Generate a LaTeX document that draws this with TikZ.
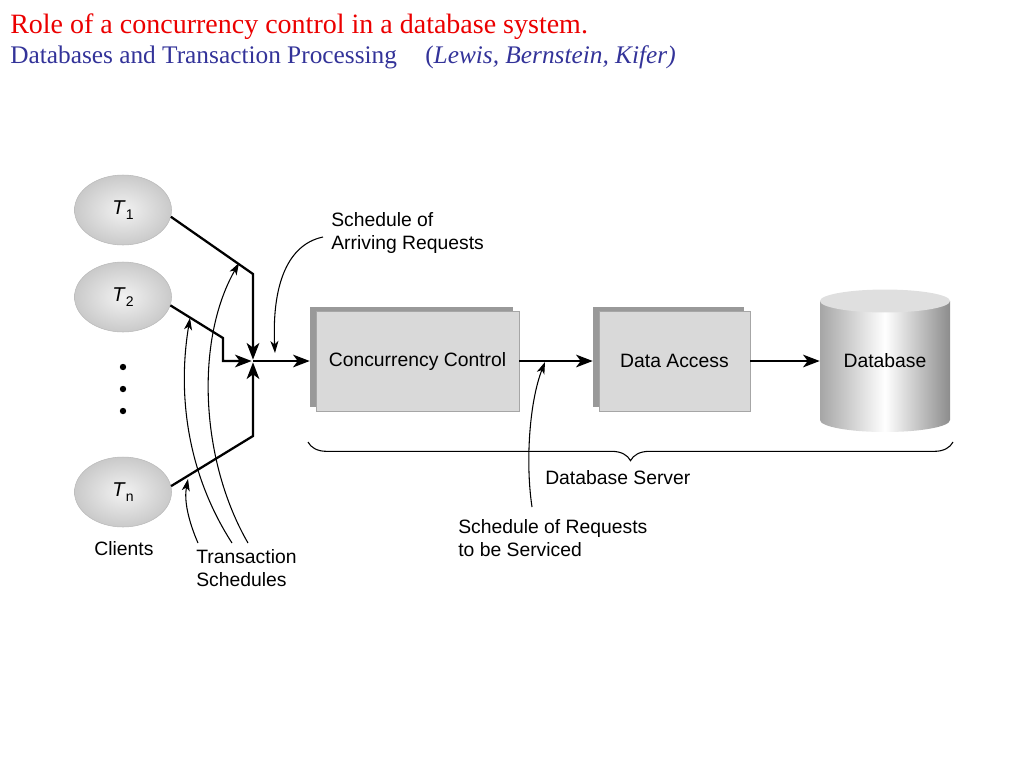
\documentclass[tikz,border=0pt]{standalone}
\usepackage{fontspec}
\setmainfont{Liberation Serif}
\setsansfont{Liberation Sans}
\usetikzlibrary{shapes.geometric,shadows,arrows.meta,decorations.pathreplacing}
\definecolor{subblue}{RGB}{51,51,153}
\definecolor{titlered}{RGB}{235,0,0}

\begin{document}
\begin{tikzpicture}[x=0.75pt,y=-0.75pt,
    client/.style ={ellipse, draw=gray!55, inner color=gray!10, outer color=gray!42, minimum width=72.75pt, minimum height=52.5pt, inner sep=0pt, font=\sffamily\fontsize{15}{17}\selectfont},
    server/.style ={rectangle, draw=gray!70, fill=gray!30, minimum height=75pt, font=\sffamily\fontsize{14.5}{17}\selectfont, drop shadow={shadow xshift=-4.5pt, shadow yshift=3pt, fill=gray!80, opacity=1}},
    textlabel/.style ={font=\sffamily\fontsize{14.5}{17.25}\selectfont, align=left, inner sep=0pt},
    flow/.style ={line width=1.7pt, -{Stealth[length=12.5pt, width=9.5pt, inset=3.5pt]}},
    note/.style ={line width=0.8pt, -{Stealth[length=9pt, width=6pt, inset=2.5pt]}}]
   \useasboundingbox (0,0) rectangle (1024,768);
   \node[anchor=base west, inner sep=0pt, text=titlered, font=\fontsize{21}{25}\selectfont] (title) at (10,33) {Role of a concurrency control in a database system.};
   \node[anchor=base west, inner sep=0pt, text=subblue, font=\fontsize{19}{23}\selectfont] (book) at (10,63) {Databases and Transaction Processing};
   \node[anchor=base west, inner sep=0pt, text=subblue, font=\fontsize{19}{23}\selectfont] (authors) at (425,63) {(\textit{Lewis, Bernstein, Kifer)}};
   \node[client] (t1) at (123,210) {\textit{T}\raisebox{-.45ex}{\fontsize{10.5}{10}\selectfont 1}};
   \node[client] (t2) at (123,297) {\textit{T}\raisebox{-.45ex}{\fontsize{10.5}{10}\selectfont 2}};
   \node[client] (tn) at (123,492) {\textit{T}\raisebox{-.45ex}{\fontsize{10.5}{10}\selectfont n}};
   \foreach \y in {367,389,411}
     \fill (123,\y) circle (2.4pt);
   \node[server, minimum width=152.25pt] (cc) at (417.5,361) {Concurrency Control};
   \node[server, minimum width=113.25pt] (da) at (674.5,361) {Data Access};
   \shade[left color=gray!70, right color=gray!90, middle color=white] (820,301) -- (820,420) arc[start angle=180, end angle=360, x radius=48.75pt, y radius=9pt] -- (950,301) -- cycle;
   \fill[gray!25] (885,301) ellipse [x radius=48.75pt, y radius=8.6pt];
   \node[textlabel, minimum width=97.5pt, minimum height=80pt, align=center] (db) at (885,361) {Database};
   \coordinate (j) at (253,361);
   \draw[flow, shorten >=1pt] (t1.-8) -- (253,274) -- (j);
   \draw[flow, shorten >=1pt] (t2.-10) -- (223,338) |- (j);
   \draw[flow, shorten >=1pt] (tn.7) -- (253,436) -- (j);
   \draw[flow, shorten >=4.5pt] (j) -- (cc.west);
   \draw[flow, shorten >=4.5pt] (cc.east) -- (da.west);
   \draw[flow] (da.east) -- (db.west);
   \node[textlabel, anchor=north west] (arriving) at (331,212) {Schedule of\\Arriving Requests};
   \node[textlabel, anchor=north west] (serviced) at (458,519) {Schedule of Requests\\to be Serviced};
   \node[textlabel, anchor=north west] (server) at (545,470) {Database Server};
   \node[textlabel, anchor=north] (clients) at (124,541) {Clients};
   \node[textlabel, anchor=north west] (schedules) at (196,549) {Transaction\\Schedules};
   \coordinate (a0) at (323,237);
   \coordinate (a1) at (275,353);
   \draw[note] (a0) .. controls (285,245) and (272,290) .. (a1);
   \coordinate (r0) at (532,507);
   \coordinate (r1) at (545,362);
   \draw[note] (r0) .. controls (525,460) and (530,400) .. (r1);
   \coordinate (s1) at (198,543);
   \coordinate (s2) at (232,543);
   \coordinate (s3) at (248,543);
   \coordinate (e1) at (188,479);
   \coordinate (e2) at (190,318);
   \coordinate (e3) at (239,263);
   \draw[note] (s1) .. controls (188,520) and (184,500) .. (e1);
   \draw[note] (s2) .. controls (185,470) and (178,390) .. (e2);
   \draw[note] (s3) .. controls (200,460) and (195,340) .. (e3);
   \draw[line width=0.8pt, decorate, decoration={brace, mirror, amplitude=14pt}] (308,442) -- (953,442);
 \end{tikzpicture}
\end{document}
